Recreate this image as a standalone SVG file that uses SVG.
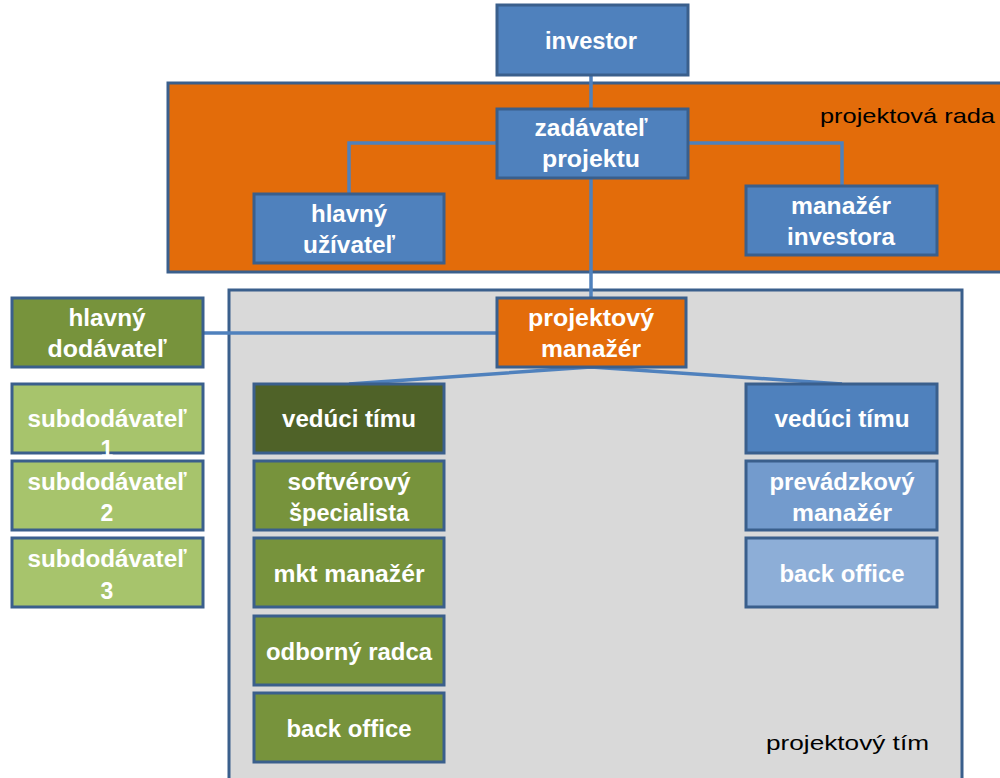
<svg xmlns="http://www.w3.org/2000/svg" width="1000" height="778" viewBox="0 0 1000 778">
<style>
.n{stroke:#3A5F8C;stroke-width:3}
.blue{fill:#4F81BD}
.orange{fill:#E36C0A}
.green{fill:#77933C}
.dgreen{fill:#4F6228}
.lgreen{fill:#A7C46C}
.mblue{fill:#739BCD}
.lblue{fill:#8DAED7}
.t{font-family:"Liberation Sans",Arial,sans-serif;font-weight:bold;font-size:23px;fill:#FFFFFF;text-anchor:middle}
.lab{font-family:"Liberation Sans",Arial,sans-serif;font-size:21px;fill:#000000}
.c{fill:none;stroke:#4F81BD;stroke-width:3.5}
</style>
<rect width="1000" height="778" fill="#FFFFFF"/>
<g id="projektova-rada">
<rect x="168" y="83" width="840" height="189" fill="#E36C0A" stroke="#3A5F8C" stroke-width="3"/>
<text class="lab" x="820" y="123" textLength="175" lengthAdjust="spacingAndGlyphs">projektová rada</text>
</g>
<g id="projektovy-tim">
<rect x="229" y="290" width="733" height="500" fill="#D9D9D9" stroke="#3A5F8C" stroke-width="3"/>
<text class="lab" x="766" y="750" textLength="163" lengthAdjust="spacingAndGlyphs">projektový tím</text>
</g>
<g id="connectors">
<line class="c" x1="591" y1="75" x2="591" y2="109"/>
<line class="c" x1="591" y1="178" x2="591" y2="298"/>
<polyline class="c" points="497,143 349,143 349,194"/>
<polyline class="c" points="688,143 842,143 842,186"/>
<line class="c" x1="203" y1="333" x2="497" y2="333"/>
<polyline class="c" points="349,384 591,367 842,384"/>
</g>
<g id="investor">
<rect class="n blue" x="497" y="5" width="191" height="70"/>
<text class="t" x="591" y="49" textLength="92" lengthAdjust="spacingAndGlyphs">investor</text>
</g>
<g id="zadavatel-projektu">
<rect class="n blue" x="497" y="109" width="191" height="69"/>
<text class="t" x="591" y="136" textLength="113" lengthAdjust="spacingAndGlyphs">zadávateľ</text>
<text class="t" x="591" y="167" textLength="98" lengthAdjust="spacingAndGlyphs">projektu</text>
</g>
<g id="hlavny-uzivatel">
<rect class="n blue" x="254" y="194" width="190" height="69"/>
<text class="t" x="349" y="222" textLength="76" lengthAdjust="spacingAndGlyphs">hlavný</text>
<text class="t" x="349" y="253" textLength="92" lengthAdjust="spacingAndGlyphs">užívateľ</text>
</g>
<g id="manazer-investora">
<rect class="n blue" x="746" y="186" width="191" height="69"/>
<text class="t" x="841" y="214" textLength="100" lengthAdjust="spacingAndGlyphs">manažér</text>
<text class="t" x="841" y="245" textLength="108" lengthAdjust="spacingAndGlyphs">investora</text>
</g>
<g id="projektovy-manazer">
<rect class="n orange" x="497" y="298" width="189" height="69"/>
<text class="t" x="591" y="326" textLength="126" lengthAdjust="spacingAndGlyphs">projektový</text>
<text class="t" x="591" y="357" textLength="100" lengthAdjust="spacingAndGlyphs">manažér</text>
</g>
<g id="hlavny-dodavatel">
<rect class="n green" x="12" y="298" width="191" height="69"/>
<text class="t" x="107" y="326" textLength="77" lengthAdjust="spacingAndGlyphs">hlavný</text>
<text class="t" x="107" y="357" textLength="119" lengthAdjust="spacingAndGlyphs">dodávateľ</text>
</g>
<g id="subdodavatel-1">
<rect class="n lgreen" x="12" y="384" width="191" height="69"/>
<text class="t" x="107" y="427" textLength="159" lengthAdjust="spacingAndGlyphs">subdodávateľ</text>
<text class="t" x="107" y="457">1</text>
</g>
<g id="subdodavatel-2">
<rect class="n lgreen" x="12" y="461" width="191" height="69"/>
<text class="t" x="107" y="490" textLength="159" lengthAdjust="spacingAndGlyphs">subdodávateľ</text>
<text class="t" x="107" y="521">2</text>
</g>
<g id="subdodavatel-3">
<rect class="n lgreen" x="12" y="538" width="191" height="69"/>
<text class="t" x="107" y="567" textLength="159" lengthAdjust="spacingAndGlyphs">subdodávateľ</text>
<text class="t" x="107" y="599">3</text>
</g>
<g id="veduci-timu-1">
<rect class="n dgreen" x="254" y="384" width="190" height="69"/>
<text class="t" x="349" y="427" textLength="134" lengthAdjust="spacingAndGlyphs">vedúci tímu</text>
</g>
<g id="softverovy-specialista">
<rect class="n green" x="254" y="461" width="190" height="69"/>
<text class="t" x="349" y="490" textLength="123" lengthAdjust="spacingAndGlyphs">softvérový</text>
<text class="t" x="349" y="521" textLength="120" lengthAdjust="spacingAndGlyphs">špecialista</text>
</g>
<g id="mkt-manazer">
<rect class="n green" x="254" y="538" width="190" height="69"/>
<text class="t" x="349" y="582" textLength="151" lengthAdjust="spacingAndGlyphs">mkt manažér</text>
</g>
<g id="odborny-radca">
<rect class="n green" x="254" y="616" width="190" height="69"/>
<text class="t" x="349" y="660" textLength="166" lengthAdjust="spacingAndGlyphs">odborný radca</text>
</g>
<g id="back-office-1">
<rect class="n green" x="254" y="693" width="190" height="69"/>
<text class="t" x="349" y="737" textLength="125" lengthAdjust="spacingAndGlyphs">back office</text>
</g>
<g id="veduci-timu-2">
<rect class="n blue" x="746" y="384" width="191" height="69"/>
<text class="t" x="842" y="427" textLength="135" lengthAdjust="spacingAndGlyphs">vedúci tímu</text>
</g>
<g id="prevadzkovy-manazer">
<rect class="n mblue" x="746" y="461" width="191" height="69"/>
<text class="t" x="842" y="490" textLength="145" lengthAdjust="spacingAndGlyphs">prevádzkový</text>
<text class="t" x="842" y="521" textLength="100" lengthAdjust="spacingAndGlyphs">manažér</text>
</g>
<g id="back-office-2">
<rect class="n lblue" x="746" y="538" width="191" height="69"/>
<text class="t" x="842" y="582" textLength="125" lengthAdjust="spacingAndGlyphs">back office</text>
</g>
</svg>
